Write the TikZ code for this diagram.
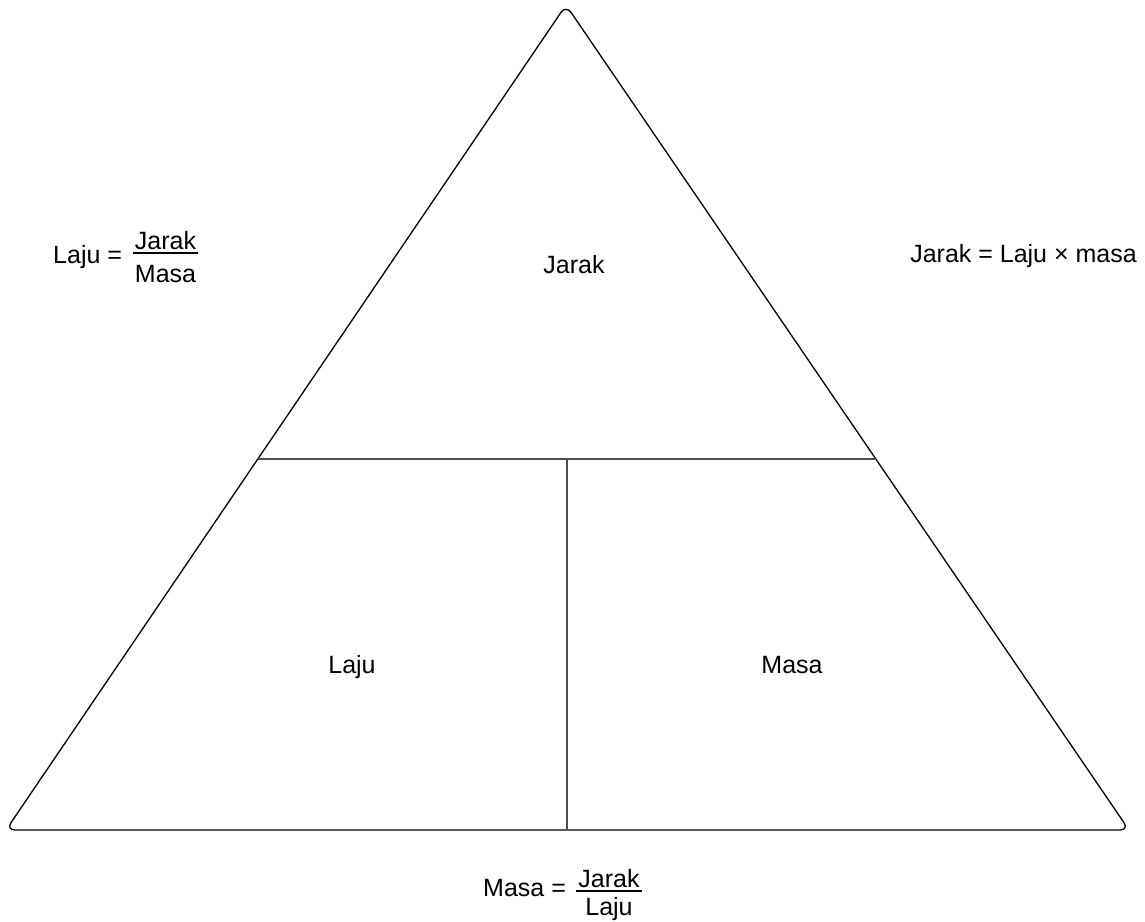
\documentclass[tikz,border=0pt]{standalone}
\usepackage{fontspec}
\setmainfont{Liberation Sans}
\usetikzlibrary{calc}
\definecolor{innergray}{RGB}{77,77,77}
\begin{document}
\begin{tikzpicture}[x=1pt,y=-1pt,
  lbl/.style={font=\fontsize{25}{30}\selectfont, inner sep=0pt},
  outerline/.style={line width=1.3pt, rounded corners=9pt, line join=round},
  divider/.style={line width=1.6pt, draw=innergray},
  fracbar/.style={line width=1.2pt}]
\useasboundingbox (0,0) rectangle (1145,921);
% triangle
\coordinate (A) at (566,5);
\coordinate (BL) at (6,830);
\coordinate (BR) at (1129,830);
\coordinate (BM) at (567,830);
\draw[outerline] (BM) -- (BR) -- (A) -- (BL) -- cycle;
% dividers
\coordinate (HL) at ($(A)!0.5503!(BL)$);
\coordinate (HR) at ($(A)!0.5503!(BR)$);
\coordinate (VT) at (567,459);
\draw[divider] (HL) -- (HR);
\draw[divider] (VT) -- (BM);
% section labels
\node[lbl, anchor=base] (jarak) at (574,273) {Jarak};
\node[lbl, anchor=base] (laju) at (352,673) {Laju};
\node[lbl, anchor=base] (masa) at (792,673) {Masa};
% left formula
\node[lbl, anchor=base west] (lmain) at (53,263) {Laju =};
\node[lbl, anchor=base] (lnum) at (165.5,249) {Jarak};
\node[lbl, anchor=base] (lden) at (165.5,282) {Masa};
\coordinate (lbarA) at (133,253);
\coordinate (lbarB) at (198,253);
\draw[fracbar] (lbarA) -- (lbarB);
% right formula
\node[lbl, anchor=base east] (rmain) at (1137,262) {Jarak = Laju × masa};
% bottom formula
\node[lbl, anchor=base west] (bmain) at (483,896) {Masa =};
\node[lbl, anchor=base] (bnum) at (609,887) {Jarak};
\node[lbl, anchor=base] (bden) at (609,915) {Laju};
\coordinate (bbarA) at (576,891);
\coordinate (bbarB) at (642,891);
\draw[fracbar] (bbarA) -- (bbarB);
\end{tikzpicture}
\end{document}
